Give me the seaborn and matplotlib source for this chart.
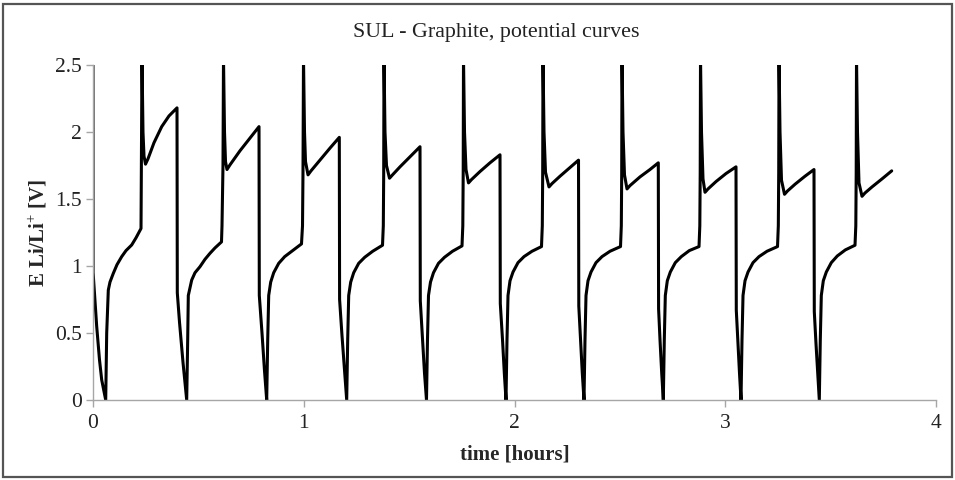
import numpy as np
import pandas as pd
import matplotlib
matplotlib.use("Agg")
import matplotlib.pyplot as plt
from matplotlib.patches import Rectangle
import seaborn as sns

# ---- data (time in hours, potential in V) ----
t1 = [0.0000, 0.0005, 0.0175, 0.0308, 0.0413, 0.0603,
      0.0650, 0.0726, 0.0806, 0.0963, 0.1139, 0.1362, 0.1566, 0.1836, 0.2040, 0.2278,
      0.2325, 0.2372, 0.2420, 0.2491,
      0.2610, 0.2894, 0.3260, 0.3606, 0.3986,
      0.4000, 0.4105, 0.4271]
e1 = [2.55, 0.95, 0.55, 0.30, 0.15, 0.00,
      0.50, 0.82, 0.88, 0.945, 1.01, 1.07, 1.115, 1.157, 1.21, 1.28,
      2.55, 2.00, 1.82, 1.76,
      1.80, 1.92, 2.04, 2.12, 2.18,
      0.80, 0.58, 0.28]

t2 = [0.4446, 0.4493, 0.4522, 0.4683, 0.4840, 0.5077, 0.5314, 0.5552, 0.5789, 0.6097,
      0.6121, 0.6168, 0.6192, 0.6240, 0.6287, 0.6358,
      0.6501, 0.6975, 0.7450, 0.7877,
      0.7891, 0.8019, 0.8137]
e2 = [0.00, 0.45, 0.78, 0.895, 0.95, 0.995, 1.05, 1.095, 1.135, 1.18,
      1.30, 1.75, 2.55, 2.00, 1.78, 1.72,
      1.755, 1.86, 1.955, 2.04,
      0.78, 0.50, 0.22]

t3 = [0.8242, 0.8290, 0.8337, 0.8432, 0.8574, 0.8812, 0.9096, 0.9476, 0.9893,
      0.9941, 0.9964, 0.9988, 1.0036, 1.0083, 1.0202,
      1.0344, 1.0771, 1.1246, 1.1687,
      1.1701, 1.1815, 1.1934]
e3 = [0.00, 0.45, 0.78, 0.88, 0.95, 1.02, 1.07, 1.115, 1.165,
      1.30, 1.70, 2.55, 2.00, 1.78, 1.68,
      1.71, 1.79, 1.88, 1.96,
      0.75, 0.48, 0.22]

t4 = [1.2038, 1.2085, 1.2133, 1.2228, 1.2370, 1.2607, 1.2892, 1.3271, 1.3737,
      1.3775, 1.3794, 1.3808, 1.3855, 1.3926, 1.4069,
      1.4211, 1.4567, 1.5042, 1.5516,
      1.5530, 1.5635, 1.5730]
e4 = [0.00, 0.45, 0.78, 0.88, 0.95, 1.02, 1.065, 1.11, 1.155,
      1.30, 1.70, 2.55, 2.00, 1.75, 1.655,
      1.68, 1.74, 1.815, 1.89,
      0.74, 0.46, 0.20]

t5 = [1.5824, 1.5871, 1.5919, 1.6014, 1.6156, 1.6393, 1.6678, 1.7058, 1.7509,
      1.7547, 1.7566, 1.7580, 1.7628, 1.7699, 1.7817,
      1.7960, 1.8363, 1.8837, 1.9312,
      1.9326, 1.9431, 1.9517]
e5 = [0.00, 0.45, 0.78, 0.88, 0.95, 1.02, 1.065, 1.11, 1.15,
      1.30, 1.70, 2.55, 2.00, 1.72, 1.62,
      1.645, 1.705, 1.77, 1.83,
      0.72, 0.45, 0.20]

t6 = [1.9597, 1.9644, 1.9692, 1.9787, 1.9929, 2.0166, 2.0451, 2.0830, 2.1281,
      2.1319, 2.1338, 2.1352, 2.1400, 2.1471, 2.1637,
      2.1779, 2.2159, 2.2633, 2.3037,
      2.3051, 2.3132, 2.3217]
e6 = [0.00, 0.45, 0.78, 0.89, 0.955, 1.025, 1.07, 1.11, 1.145,
      1.30, 1.70, 2.55, 2.00, 1.70, 1.59,
      1.615, 1.67, 1.735, 1.79,
      0.70, 0.45, 0.20]

t7 = [2.3298, 2.3345, 2.3393, 2.3488, 2.3630, 2.3867, 2.4152, 2.4532, 2.5030,
      2.5068, 2.5087, 2.5101, 2.5148, 2.5219, 2.5338,
      2.5480, 2.5955, 2.6429, 2.6823,
      2.6837, 2.6904, 2.6985]
e7 = [0.00, 0.45, 0.78, 0.89, 0.955, 1.025, 1.07, 1.11, 1.145,
      1.30, 1.70, 2.55, 2.00, 1.68, 1.575,
      1.60, 1.665, 1.72, 1.77,
      0.68, 0.45, 0.20]

t8 = [2.7061, 2.7108, 2.7156, 2.7251, 2.7393, 2.7630, 2.7915, 2.8295, 2.8755,
      2.8793, 2.8812, 2.8826, 2.8873, 2.8944, 2.9039,
      2.9181, 2.9561, 3.0036, 3.0510,
      3.0524, 3.0605, 3.0676]
e8 = [0.00, 0.45, 0.78, 0.89, 0.955, 1.025, 1.07, 1.115, 1.145,
      1.30, 1.70, 2.55, 2.00, 1.65, 1.55,
      1.575, 1.63, 1.69, 1.74,
      0.67, 0.42, 0.20]

t9 = [3.0748, 3.0795, 3.0843, 3.0938, 3.1080, 3.1317, 3.1602, 3.1981, 3.2480,
      3.2518, 3.2537, 3.2551, 3.2598, 3.2669, 3.2812,
      3.2954, 3.3310, 3.3784, 3.4211,
      3.4225, 3.4306, 3.4387]
e9 = [0.00, 0.45, 0.78, 0.89, 0.955, 1.025, 1.07, 1.11, 1.145,
      1.30, 1.70, 2.55, 2.00, 1.64, 1.535,
      1.56, 1.61, 1.67, 1.72,
      0.66, 0.42, 0.20]

t10 = [3.4463, 3.4510, 3.4558, 3.4653, 3.4795, 3.5032, 3.5317, 3.5697, 3.6157,
       3.6195, 3.6214, 3.6228, 3.6275, 3.6346, 3.6489,
       3.6631, 3.6963, 3.7438, 3.7898]
e10 = [0.00, 0.45, 0.78, 0.89, 0.955, 1.025, 1.075, 1.12, 1.155,
       1.30, 1.70, 2.55, 2.00, 1.62, 1.52,
       1.545, 1.59, 1.65, 1.71]

x_ticks = [0, 1, 2, 3, 4]
y_ticks = [0, 0.5, 1, 1.5, 2, 2.5]
y_tick_labels = ["0", "0.5", "1", "1.5", "2", "2.5"]

title = "SUL - Graphite, potential curves"
x_label = "time [hours]"
y_label = r"E Li/Li$^{+}$ [V]"

# ---- build table ----
time_h = t1 + t2 + t3 + t4 + t5 + t6 + t7 + t8 + t9 + t10
e_v = e1 + e2 + e3 + e4 + e5 + e6 + e7 + e8 + e9 + e10
df = pd.DataFrame({"time": time_h, "E": e_v})

sns.set_theme(style="white")
plt.rcParams["font.family"] = ["Liberation Serif", "DejaVu Serif"]
plt.rcParams["mathtext.fontset"] = "custom"
plt.rcParams["mathtext.rm"] = "Liberation Serif"
plt.rcParams["mathtext.bf"] = "Liberation Serif:bold"

fig = plt.figure(figsize=(9.55, 4.8), dpi=100)
ax = fig.add_axes([93 / 955, 1 - 400 / 480, (936 - 93) / 955, (400 - 65) / 480])

sns.lineplot(data=df, x="time", y="E", sort=False, estimator=None,
             color="black", linewidth=2.2, ax=ax)

ax.set_xlim(0, 4)
ax.set_ylim(0, 2.5)
ax.set_xticks(x_ticks)
ax.set_xticklabels([str(v) for v in x_ticks])
ax.set_yticks(y_ticks)
ax.set_yticklabels(y_tick_labels)

spine_col = "#a6a6a6"
for side in ["top", "right"]:
    ax.spines[side].set_visible(False)
for side in ["left", "bottom"]:
    ax.spines[side].set_color(spine_col)
    ax.spines[side].set_linewidth(1.0)

ax.tick_params(axis="both", which="major", direction="out", length=5,
               width=1.0, color=spine_col, labelsize=15.5, labelcolor="#222222")
ax.tick_params(axis="x", pad=5)
ax.tick_params(axis="y", pad=3)
ax.xaxis.set_ticks_position("bottom")
ax.yaxis.set_ticks_position("left")

ax.set_xlabel(x_label, fontsize=15, fontweight="bold", labelpad=8)
ax.set_ylabel(y_label, fontsize=15, fontweight="bold", labelpad=4)
ax.grid(False)

fig.text(496 / 955, 1 - 32 / 480, title, ha="center", va="center", fontsize=15.8,
         color="#222222")

fig.patches.append(Rectangle((3 / 955, 3 / 480), 949 / 955, 473 / 480,
                             transform=fig.transFigure, fill=False,
                             edgecolor="#555555", linewidth=1.6))

fig.savefig("out.png", dpi=100)
